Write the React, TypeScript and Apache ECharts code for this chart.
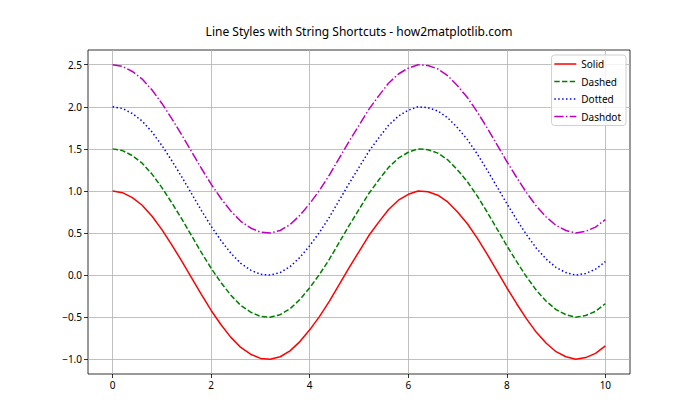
import React, { useEffect, useRef } from "react";
import * as echarts from "echarts";

const titleText = "Line Styles with String Shortcuts - how2matplotlib.com";
const xs = [0, 0.2, 0.4, 0.6, 0.8, 1.0, 1.2, 1.4, 1.6, 1.8, 2.0, 2.2, 2.4, 2.6, 2.8, 3.0, 3.2, 3.4, 3.6, 3.8, 4.0, 4.2, 4.4, 4.6, 4.8, 5.0, 5.2, 5.4, 5.6, 5.8, 6.0, 6.2, 6.4, 6.6, 6.8, 7.0, 7.2, 7.4, 7.6, 7.8, 8.0, 8.2, 8.4, 8.6, 8.8, 9.0, 9.2, 9.4, 9.6, 9.8, 10.0];
const solid = [1.00, 0.98, 0.92, 0.83, 0.70, 0.54, 0.36, 0.17, -0.03, -0.23, -0.42, -0.59, -0.74, -0.86, -0.94, -0.99, -1.00, -0.97, -0.90, -0.79, -0.65, -0.49, -0.31, -0.11, 0.09, 0.28, 0.47, 0.63, 0.78, 0.89, 0.96, 1.00, 0.99, 0.95, 0.87, 0.75, 0.61, 0.44, 0.25, 0.05, -0.15, -0.34, -0.52, -0.68, -0.81, -0.91, -0.97, -1.00, -0.98, -0.93, -0.84];
const dashed = [1.50, 1.48, 1.42, 1.33, 1.20, 1.04, 0.86, 0.67, 0.47, 0.27, 0.08, -0.09, -0.24, -0.36, -0.44, -0.49, -0.50, -0.47, -0.40, -0.29, -0.15, 0.01, 0.19, 0.39, 0.59, 0.78, 0.97, 1.13, 1.28, 1.39, 1.46, 1.50, 1.49, 1.45, 1.37, 1.25, 1.11, 0.94, 0.75, 0.55, 0.35, 0.16, -0.02, -0.18, -0.31, -0.41, -0.47, -0.50, -0.48, -0.43, -0.34];
const dotted = [2.00, 1.98, 1.92, 1.83, 1.70, 1.54, 1.36, 1.17, 0.97, 0.77, 0.58, 0.41, 0.26, 0.14, 0.06, 0.01, 0.00, 0.03, 0.10, 0.21, 0.35, 0.51, 0.69, 0.89, 1.09, 1.28, 1.47, 1.63, 1.78, 1.89, 1.96, 2.00, 1.99, 1.95, 1.87, 1.75, 1.61, 1.44, 1.25, 1.05, 0.85, 0.66, 0.48, 0.32, 0.19, 0.09, 0.03, 0.00, 0.02, 0.07, 0.16];
const dashdot = [2.50, 2.48, 2.42, 2.33, 2.20, 2.04, 1.86, 1.67, 1.47, 1.27, 1.08, 0.91, 0.76, 0.64, 0.56, 0.51, 0.50, 0.53, 0.60, 0.71, 0.85, 1.01, 1.19, 1.39, 1.59, 1.78, 1.97, 2.13, 2.28, 2.39, 2.46, 2.50, 2.49, 2.45, 2.37, 2.25, 2.11, 1.94, 1.75, 1.55, 1.35, 1.16, 0.98, 0.82, 0.69, 0.59, 0.53, 0.50, 0.52, 0.57, 0.66];
const seriesNames = ["Solid", "Dashed", "Dotted", "Dashdot"];
const xTicks = [0, 2, 4, 6, 8, 10];
const yTicks = [-1.0, -0.5, 0.0, 0.5, 1.0, 1.5, 2.0, 2.5];

const FONT = "'Noto Sans', 'DejaVu Sans', sans-serif";

export default function App() {
  const ref = useRef<HTMLDivElement>(null);
  useEffect(() => {
    if (!ref.current) return;
    const chart = echarts.init(ref.current, undefined, { renderer: "svg" });
    const values = [solid, dashed, dotted, dashdot];
    const colors = ["#ff0000", "#008000", "#0000ff", "#bf00bf"];
    const dashes: any[] = ["solid", [5.4, 2.3], [1.5, 2.4], [9.3, 2.3, 1.5, 2.3]];
    const series = seriesNames.map((name, i) => ({
      name,
      type: "line",
      data: xs.map((x, j) => [x, values[i][j]]),
      showSymbol: false,
      symbol: "none",
      smooth: false,
      color: colors[i],
      lineStyle: { color: colors[i], width: 1.5, type: dashes[i], cap: "butt" },
      z: 3,
    }));
    const fmt = (v: number) => (v < 0 ? "\u2212" + Math.abs(v).toFixed(1) : v.toFixed(1));
    chart.setOption({
      animation: false,
      backgroundColor: "#ffffff",
      textStyle: { fontFamily: FONT },
      title: {
        text: titleText,
        left: 359,
        top: 25,
        padding: 0,
        textAlign: "center",
        textStyle: { fontFamily: FONT, fontSize: 12, fontWeight: "normal", color: "#000" },
      },
      legend: {
        orient: "vertical",
        right: 74,
        top: 55,
        padding: [4, 5, 4, 2],
        itemGap: 7.5,
        itemWidth: 22,
        itemHeight: 11,
        itemStyle: { opacity: 0 },
        lineStyle: { width: 1.5 },
        backgroundColor: "rgba(255,255,255,0.8)",
        borderColor: "#d0d0d0",
        borderWidth: 1,
        borderRadius: 3,
        textStyle: { fontFamily: FONT, fontSize: 10, color: "#000" },
        data: seriesNames,
      },
      grid: {
        left: 88,
        right: 70,
        top: 50,
        bottom: 46,
        show: true,
        borderColor: "#000",
        borderWidth: 0.8,
        containLabel: false,
      },
      xAxis: {
        type: "value",
        min: -0.5,
        max: 10.5,
        axisLine: { show: false, onZero: false },
        axisTick: { show: true, inside: false, length: 4, customValues: xTicks, lineStyle: { color: "#000", width: 0.8 } },
        axisLabel: { customValues: xTicks, color: "#000", fontSize: 10, fontFamily: FONT, margin: 6, formatter: (v: number) => String(v) },
        splitLine: { show: true, lineStyle: { color: "#b0b0b0", width: 0.8 } },
      },
      yAxis: {
        type: "value",
        min: -1.175,
        max: 2.675,
        axisLine: { show: false, onZero: false },
        axisTick: { show: true, inside: false, length: 4, customValues: yTicks, lineStyle: { color: "#000", width: 0.8 } },
        axisLabel: { customValues: yTicks, color: "#000", fontSize: 10, fontFamily: FONT, margin: 6, formatter: fmt },
        splitLine: { show: true, lineStyle: { color: "#b0b0b0", width: 0.8 } },
      },
      series,
    });
    return () => chart.dispose();
  }, []);
  return (
    <div
      ref={ref}
      style={{ position: "fixed", left: 0, top: 0, width: 700, height: 420, background: "#fff" }}
    />
  );
}
